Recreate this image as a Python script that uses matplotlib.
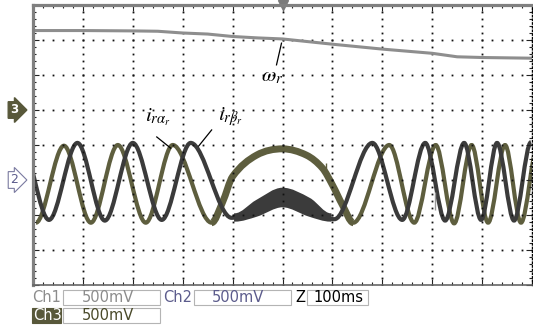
import numpy as np
import matplotlib

matplotlib.use("Agg")
import matplotlib.pyplot as plt
from matplotlib.path import Path
from matplotlib.patches import PathPatch, Rectangle
from matplotlib.transforms import blended_transform_factory

plt.rcParams.update({"font.family": "DejaVu Sans", "mathtext.fontset": "stix"})

# ── Data (time in ms, level in divisions) ─────────
omega_t = [0, 100, 200, 250, 300, 350, 400, 450, 500, 600, 700, 800, 850, 900, 1000]
omega_v = [3.27, 3.27, 3.26, 3.25, 3.2, 3.17, 3.1, 3.06, 3.03, 2.88, 2.74, 2.62, 2.52, 2.5, 2.48]

# i_r_beta (dark trace): extrema and a few shape points
beta_t = [-24, 32, 89, 144, 200, 258, 316, 398, 448, 500, 554, 604, 680, 740, 786, 826, 864, 898, 930, 964, 998]
beta_v = [0.05, -2.14, 0.06, -2.16, 0.06, -2.14, 0.06, -2.08, -1.8, -1.5, -1.8, -2.12,
          0.06, -2.14, 0.06, -2.16, 0.06, -2.14, 0.06, -2.16, 0.08]

# noisy band around the slow dark hump
hump_t = [405, 448, 500, 554, 596]
hump_hi = [-1.98, -1.6, -1.25, -1.54, -1.98]
hump_lo = [-2.16, -2.02, -1.75, -2.02, -2.16]

# i_r_alpha (olive trace)
alpha_t = [6, 62, 116, 170, 226, 280, 358, 380, 400, 448, 500, 548, 580, 600, 620, 642,
           714, 764, 807, 844, 879, 912, 946, 978, 1012]
alpha_v = [-2.22, -0.02, -2.22, 0.0, -2.22, 0.0, -2.22, -1.63, -0.9, -0.29, -0.11, -0.29,
           -0.66, -1.14, -1.71, -2.22, 0.0, -2.22, 0.0, -2.24, 0.0, -2.22, 0.0, -2.22, 0.02]

# short glitch spikes
glitch_t = [588, 806]
glitch_v0 = [-0.91, -1.86]
glitch_v1 = [-0.51, -1.34]

trigger_pos = 500
ch3_ref, ch2_ref = 1.0, -1.0

DARK = "#3b3b3b"
OLIVE = "#5e5e3e"
GRAY = "#8e8e8e"


def smooth_path(t, v, i0=0, i1=None):
    """Cubic Bezier path through the read points, flat at local extrema."""
    t = np.asarray(t, float)
    v = np.asarray(v, float)
    n = len(t)
    i1 = n - 1 if i1 is None else i1
    m = np.zeros(n)
    for i in range(1, n - 1):
        if (v[i] - v[i - 1]) * (v[i + 1] - v[i]) > 0:
            m[i] = (v[i + 1] - v[i - 1]) / (t[i + 1] - t[i - 1])
    verts, codes = [(t[i0], v[i0])], [Path.MOVETO]
    for i in range(i0, i1):
        h = t[i + 1] - t[i]
        verts += [(t[i] + h / 3, v[i] + m[i] * h / 3),
                  (t[i + 1] - h / 3, v[i + 1] - m[i + 1] * h / 3),
                  (t[i + 1], v[i + 1])]
        codes += [Path.CURVE4] * 3
    return verts, codes


fig = plt.figure(figsize=(5.33, 3.26), dpi=100)
ax = fig.add_axes([33 / 533, 41 / 326, 499 / 533, 280 / 326])
ax.set_xlim(0, 1000)
ax.set_ylim(-4, 4)

# graticule: dotted lines, 5 dots per division
for gx in range(100, 1000, 100):
    ax.plot([gx] * 41, np.linspace(-4, 4, 41), ls="none", marker="s", ms=1.3, mew=0, color="#111111")
for gy in range(-3, 4):
    ax.plot(np.linspace(0, 1000, 51), [gy] * 51, ls="none", marker="s", ms=1.3, mew=0, color="#111111")

ax.set_xticks(range(0, 1001, 100))
ax.set_yticks(range(-4, 5))
ax.set_xticks(range(0, 1001, 20), minor=True)
ax.set_yticks(np.linspace(-4, 4, 41), minor=True)
ax.tick_params(which="both", direction="in", top=True, right=True,
               labelbottom=False, labelleft=False, color="#222222", width=0.8)
ax.tick_params(which="major", length=4)
ax.tick_params(which="minor", length=2.5)

for side in ["top", "left"]:
    ax.spines[side].set_color("#808080")
    ax.spines[side].set_linewidth(2.3)
ax.spines["bottom"].set_color("#666666")
ax.spines["bottom"].set_linewidth(1.2)
ax.spines["right"].set_linestyle(":")
ax.spines["right"].set_linewidth(1.0)

# traces
ax.plot(omega_t, omega_v, color=GRAY, lw=2.2, solid_joinstyle="round")

vv, cc = smooth_path(alpha_t, alpha_v)
ax.add_patch(PathPatch(Path(vv, cc), fill=False, ec=OLIVE, lw=3.0, joinstyle="round"))
vv, cc = smooth_path(alpha_t, alpha_v, 6, 15)
ax.add_patch(PathPatch(Path(vv, cc), fill=False, ec=OLIVE, lw=5.0, joinstyle="round"))

vv, cc = smooth_path(beta_t, beta_v)
ax.add_patch(PathPatch(Path(vv, cc), fill=False, ec=DARK, lw=3.0, joinstyle="round"))
up_v, up_c = smooth_path(hump_t, hump_hi)
lo_v, lo_c = smooth_path(hump_t[::-1], hump_lo[::-1])
band_v = up_v + [lo_v[0]] + lo_v[1:] + [up_v[0]]
band_c = up_c + [Path.LINETO] + lo_c[1:] + [Path.CLOSEPOLY]
ax.add_patch(PathPatch(Path(band_v, band_c), fc=DARK, ec=DARK, lw=1.5))

ax.vlines(glitch_t[0], glitch_v0[0], glitch_v1[0], color=OLIVE, lw=1.0)
ax.vlines(glitch_t[1], glitch_v0[1], glitch_v1[1], color="#9a9a9a", lw=1.0)

# labels
ax.plot([498, 488], [2.91, 2.29], color="black", lw=0.9)
ax.text(480, 1.97, r"$\omega_r$", fontsize=15, ha="center", va="center")
ax.plot([248, 276], [0.23, -0.09], color="black", lw=0.9)
ax.text(250, 0.78, r"$i_{r\alpha_r}$", fontsize=15, ha="center", va="center")
ax.plot([358, 332], [0.43, -0.03], color="black", lw=0.9)
ax.text(395, 0.8, r"$i_{r\beta_r}$", fontsize=15, ha="center", va="center")

# trigger marker and channel reference markers
ax.plot(trigger_pos, 4, marker="v", ms=7, color="#7a7a7a", clip_on=False)
btr = blended_transform_factory(ax.transAxes, ax.transData)
ax.text(-0.038, ch3_ref, "3", transform=btr, ha="center", va="center", fontsize=8.5,
        fontweight="bold", color="white",
        bbox=dict(boxstyle="rarrow,pad=0.15", fc="#58583a", ec="#58583a"))
ax.text(-0.038, ch2_ref, "2", transform=btr, ha="center", va="center", fontsize=9,
        color="#5c5c8c",
        bbox=dict(boxstyle="rarrow,pad=0.15", fc="white", ec="#7a7aa0", lw=0.8))


# status bar below the screen
def px(x, y):
    return x / 533, 1 - y / 326


def box(x0, y0, x1, y1, fc="white", ec="#b4b4b4"):
    fx, fy = px(x0, y1)
    fig.patches.append(Rectangle((fx, fy), (x1 - x0) / 533, (y1 - y0) / 326, fc=fc, ec=ec,
                                 lw=0.8, transform=fig.transFigure))


status = [("Ch1", 47, 297, "#8c8c8c"), ("500mV", 108, 297, "#8c8c8c"),
          ("Ch2", 178, 297, "#5c5c8c"), ("500mV", 238, 297, "#5c5c8c"),
          ("Z", 300, 297, "black"), ("100ms", 338, 297, "black"),
          ("Ch3", 47, 315, "white"), ("500mV", 108, 315, "#4a4a2a")]
box(63, 290, 160, 305)
box(194, 290, 291, 305)
box(307, 290, 368, 305)
box(32, 308, 61, 323, fc="#58583a", ec="#58583a")
box(63, 308, 160, 323)
for txt, x, y, col in status:
    fx, fy = px(x, y)
    fig.text(fx, fy, txt, color=col, fontsize=10.5, ha="center", va="center")

fig.savefig("out.png", dpi=100)
